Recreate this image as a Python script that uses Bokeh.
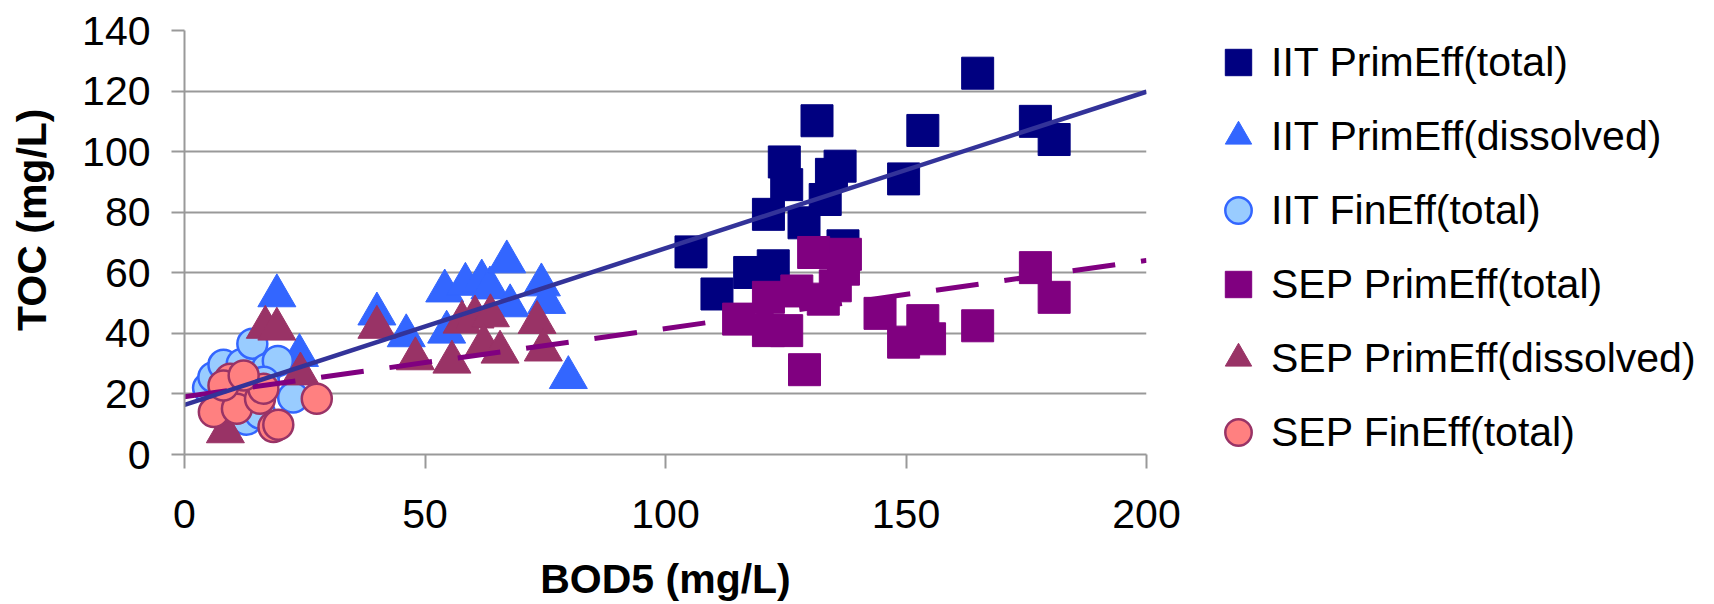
from bokeh.plotting import figure
from bokeh.models import Range1d, FixedTicker, Legend, LegendItem
from bokeh.layouts import row
from bokeh.embed import file_html
from bokeh.resources import INLINE

# ---- data ----
iit_prim_total_x = [105.3, 110.7, 117.5, 122.4, 121.4, 124.7, 125.2, 128.8, 131.5, 133.2, 134.5, 136.3, 136.9, 149.5, 153.5, 164.9, 176.9, 180.8]
iit_prim_total_y = [66.9, 53.0, 60.1, 62.3, 79.3, 96.6, 89.1, 76.5, 110.2, 84.2, 92.5, 95.2, 68.9, 91.0, 107.0, 125.9, 110.0, 104.0]

iit_prim_diss_x = [19.2, 23.9, 40.0, 46.1, 54.1, 54.5, 58.4, 61.8, 63.5, 67.0, 67.7, 74.2, 75.3, 79.8]
iit_prim_diss_y = [52.4, 32.7, 46.4, 39.2, 54.0, 40.4, 56.2, 57.3, 55.0, 63.6, 49.1, 56.0, 50.2, 25.4]

iit_fin_total_x = [4.9, 6.0, 8.1, 11.9, 14.1, 17.1, 19.4, 22.6, 12.9, 15.7, 16.5]
iit_fin_total_y = [22.0, 25.5, 29.6, 29.9, 36.6, 28.3, 30.9, 18.8, 11.5, 13.5, 24.0]

sep_prim_total_x = [115.2, 121.4, 121.4, 125.2, 127.3, 128.9, 130.8, 132.8, 135.3, 137.0, 137.4, 144.6, 149.5, 153.5, 154.9, 164.9, 176.9, 180.8]
sep_prim_total_y = [44.7, 51.9, 40.9, 40.9, 54.0, 28.0, 66.7, 51.3, 55.7, 61.2, 66.1, 46.6, 37.1, 44.2, 38.2, 42.5, 61.7, 51.9]

sep_prim_diss_x = [8.5, 16.8, 19.2, 24.1, 40.0, 48.0, 55.6, 57.7, 60.4, 63.6, 62.2, 65.6, 73.3, 74.6]
sep_prim_diss_y = [7.5, 42.0, 41.4, 26.6, 42.0, 31.6, 30.5, 43.7, 45.4, 45.8, 36.0, 33.8, 43.6, 34.5]

sep_fin_total_x = [27.5, 18.5, 19.5, 9.5, 13.7, 7.4, 6.1, 10.9, 15.7, 16.4, 8.1, 12.3]
sep_fin_total_y = [18.4, 9.1, 9.8, 25.0, 20.0, 16.2, 14.0, 15.1, 18.4, 21.7, 22.8, 26.1]

trend_x = [0, 200]
iit_trend_y = [16.4, 119.8]
sep_trend_y = [19.1, 64.1]

x_ticks = [0, 50, 100, 150, 200]
y_ticks = [0, 20, 40, 60, 80, 100, 120, 140]

labels = ["IIT PrimEff(total)", "IIT PrimEff(dissolved)", "IIT FinEff(total)",
          "SEP PrimEff(total)", "SEP PrimEff(dissolved)", "SEP FinEff(total)"]

FONT = "Liberation Sans"
GRID = "#999999"

styles = [
    dict(marker="square", size=32, fill_color="#000080", line_color="#000080", line_width=1),
    dict(marker="triangle", size=38, fill_color="#3366FF", line_color="#3366FF", line_width=1),
    dict(marker="circle", size=30, fill_color="#99CCFF", line_color="#3366FF", line_width=2.5),
    dict(marker="square", size=32, fill_color="#800080", line_color="#800080", line_width=1),
    dict(marker="triangle", size=38, fill_color="#993366", line_color="#993366", line_width=1),
    dict(marker="circle", size=30, fill_color="#FF8080", line_color="#993366", line_width=2.5),
]
series = [
    (iit_prim_total_x, iit_prim_total_y),
    (iit_prim_diss_x, iit_prim_diss_y),
    (iit_fin_total_x, iit_fin_total_y),
    (sep_prim_total_x, sep_prim_total_y),
    (sep_prim_diss_x, sep_prim_diss_y),
    (sep_fin_total_x, sep_fin_total_y),
]

# ---- main chart ----
p = figure(width=1200, height=604, x_range=Range1d(0, 200), y_range=Range1d(0, 140),
           output_backend="svg", toolbar_location=None,
           min_border_left=184, min_border_right=54, min_border_top=30, min_border_bottom=148)
p.outline_line_color = None
p.background_fill_color = "white"
p.border_fill_color = "white"

p.xgrid.visible = False
p.ygrid.grid_line_color = GRID
p.ygrid.grid_line_width = 2
p.ygrid.ticker = FixedTicker(ticks=y_ticks)

for ax in (p.xaxis[0], p.yaxis[0]):
    ax.axis_line_color = GRID
    ax.axis_line_width = 2
    ax.major_tick_line_color = GRID
    ax.major_tick_line_width = 2
    ax.major_tick_in = 0
    ax.minor_tick_out = 0
    ax.minor_tick_in = 0
    ax.major_label_text_font = FONT
    ax.major_label_text_font_size = "41px"
    ax.major_label_text_color = "black"
    ax.axis_label_text_font = FONT
    ax.axis_label_text_font_size = "41px"
    ax.axis_label_text_font_style = "bold"
    ax.axis_label_text_color = "black"

p.xaxis.ticker = FixedTicker(ticks=x_ticks)
p.yaxis.ticker = FixedTicker(ticks=y_ticks)
p.xaxis.major_tick_out = 14
p.yaxis.major_tick_out = 13
p.xaxis.major_label_standoff = 31
p.yaxis.major_label_standoff = 21
p.xaxis.axis_label = "BOD5 (mg/L)"
p.yaxis.axis_label = "\u00a0\u00a0\u00a0\u00a0TOC (mg/L)"
p.xaxis.axis_label_standoff = 25
p.yaxis.axis_label_standoff = 24

for (xs, ys), st in zip(series, styles):
    p.scatter(xs, ys, **st)

p.line(trend_x, sep_trend_y, line_color="#800080", line_width=5, line_dash="43 26")
p.line(trend_x, iit_trend_y, line_color="#333399", line_width=4.5)

# ---- legend panel (its ranges keep the series out of view; only the legend shows) ----
q = figure(width=514, height=604, x_range=Range1d(-1000, -999), y_range=Range1d(-1000, -999),
           output_backend="svg", toolbar_location=None,
           x_axis_location=None, y_axis_location=None,
           min_border_left=0, min_border_right=0, min_border_top=30, min_border_bottom=148)
q.outline_line_color = None
q.background_fill_color = "white"
q.border_fill_color = "white"
q.xgrid.visible = False
q.ygrid.visible = False

leg_renderers = [q.scatter(xs, ys, **st) for (xs, ys), st in zip(series, styles)]
legend = Legend(items=[LegendItem(label=l, renderers=[r]) for l, r in zip(labels, leg_renderers)],
                location=(5, -13), orientation="vertical",
                glyph_width=66, glyph_height=70, spacing=4, padding=0, margin=0,
                label_standoff=0, label_text_font=FONT, label_text_font_size="41px",
                label_text_color="black", border_line_color=None, background_fill_alpha=0)
q.add_layout(legend)

layout = row(p, q, spacing=0)
open("out.html", "w").write(file_html(layout, INLINE))
